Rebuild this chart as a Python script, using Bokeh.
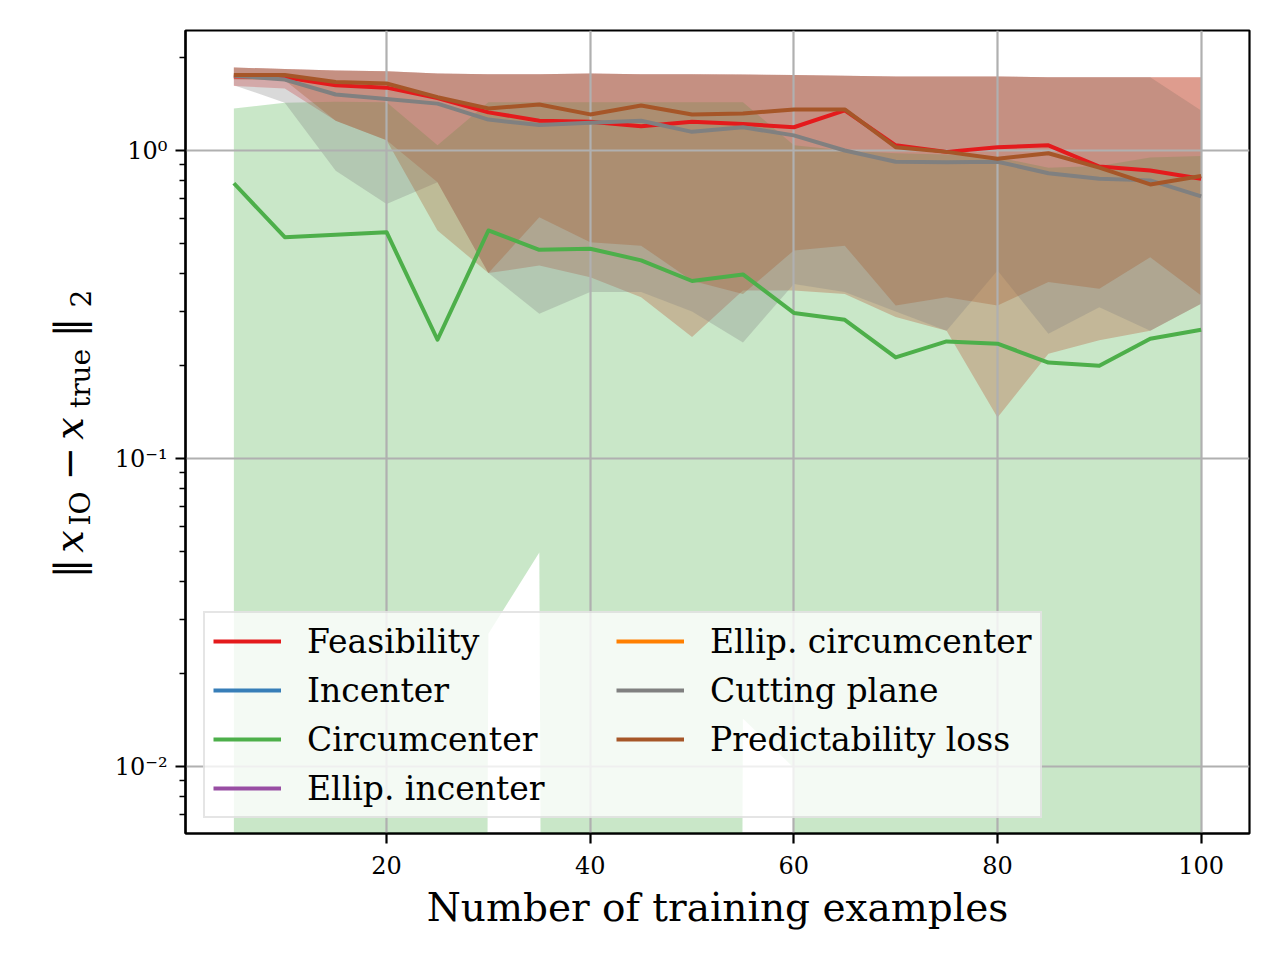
import math
from bokeh.plotting import figure
from bokeh.layouts import row
from bokeh.models import Range1d, FixedTicker, Legend, LegendItem, ColumnDataSource
from bokeh.core.properties import value
from bokeh.embed import file_html
from bokeh.resources import INLINE

# ---------------- data ----------------
n_examples = [5, 10, 15, 20, 25, 30, 35, 40, 45, 50, 55, 60, 65, 70, 75, 80, 85, 90, 95, 100]

feas_mid = [1.74, 1.73, 1.63, 1.60, 1.48, 1.33, 1.25, 1.24, 1.20, 1.24,
            1.22, 1.19, 1.35, 1.04, 0.99, 1.025, 1.04, 0.887, 0.861, 0.81]
feas_hi = [1.86, 1.84, 1.82, 1.81, 1.78, 1.77, 1.77, 1.78, 1.77, 1.77,
           1.765, 1.76, 1.75, 1.74, 1.74, 1.74, 1.73, 1.73, 1.73, 1.73]
feas_lo = [1.62, 1.59, 1.25, 1.08, 0.789, 0.40, 0.423, 0.388, 0.334, 0.248,
           0.351, 0.351, 0.342, 0.288, 0.26, 0.136, 0.219, 0.242, 0.26, 0.318]

circ_mid = [0.783, 0.523, 0.533, 0.543, 0.243, 0.55, 0.476, 0.48, 0.44, 0.377,
            0.396, 0.297, 0.282, 0.213, 0.240, 0.236, 0.205, 0.200, 0.245, 0.262]
circ_hi = [1.37, 1.43, 1.44, 1.435, 1.04, 1.435, 1.435, 1.435, 1.435, 1.435,
           1.435, 1.04, 1.0, 0.98, 0.97, 0.95, 0.88, 0.89, 0.95, 0.96]
circ_lo = [0, 0, 0, 0, 0, 0.027, 0.0495, 0, 0, 0,
           0.0143, 0.0099, 0, 0, 0, 0, 0, 0, 0, 0]

cut_mid = [1.75, 1.70, 1.52, 1.47, 1.42, 1.26, 1.21, 1.23, 1.25, 1.15,
           1.19, 1.12, 1.0, 0.92, 0.916, 0.92, 0.844, 0.81, 0.80, 0.71]
cut_hi = [1.86, 1.84, 1.82, 1.81, 1.78, 1.77, 1.77, 1.78, 1.77, 1.77,
          1.765, 1.76, 1.75, 1.74, 1.74, 1.74, 1.73, 1.73, 1.73, 1.35]
cut_lo = [1.63, 1.43, 0.86, 0.671, 0.789, 0.40, 0.295, 0.347, 0.347, 0.30,
          0.238, 0.369, 0.347, 0.30, 0.26, 0.408, 0.254, 0.31, 0.26, 0.318]

pred_mid = [1.76, 1.76, 1.67, 1.65, 1.49, 1.37, 1.41, 1.31, 1.40, 1.31,
            1.32, 1.36, 1.36, 1.025, 0.99, 0.94, 0.98, 0.88, 0.776, 0.826]
pred_hi = [1.86, 1.84, 1.82, 1.81, 1.78, 1.77, 1.77, 1.78, 1.77, 1.77,
           1.765, 1.76, 1.75, 1.74, 1.74, 1.74, 1.73, 1.73, 1.73, 1.73]
pred_lo = [1.70, 1.69, 1.25, 1.08, 0.55, 0.40, 0.607, 0.504, 0.491, 0.378,
           0.342, 0.474, 0.491, 0.314, 0.334, 0.314, 0.374, 0.356, 0.45, 0.338]

method_names = ["Feasibility", "Incenter", "Circumcenter", "Ellip. incenter",
                "Ellip. circumcenter", "Cutting plane", "Predictability loss"]
method_colors = ["#e41a1c", "#377eb8", "#4daf4a", "#984ea3",
                 "#ff7f00", "#808080", "#a65628"]

x_ticks = [20, 40, 60, 80, 100]
y_ticks = [0.01, 0.1, 1.0]
y_tick_labels = ["10\u207b\u00b2", "10\u207b\u00b9", "10\u2070"]

x_label = "Number of training examples"
# y label  ||x_IO - x_true||_2  as pieces: text, role
y_label_parts = ["\u2016", "x", "IO", "\u2212", "x", "true", "\u2016", "2"]
y_label_roles = ["main", "var", "sub", "main", "var", "sub", "main", "sub"]

# ---------------- layout constants ----------------
FONT = "DejaVu Serif"
TOTAL_W, TOTAL_H = 1264, 944
LABEL_W = 100
FRAME_L, FRAME_T, FRAME_W, FRAME_H = 185, 30, 1064, 803
BORDER_B = TOTAL_H - FRAME_T - FRAME_H

# ---------------- main figure ----------------
p = figure(x_range=Range1d(0.25, 104.75), y_range=Range1d(0.006061, 2.453),
           y_axis_type="log",
           frame_width=FRAME_W, frame_height=FRAME_H,
           min_border_left=FRAME_L - LABEL_W,
           min_border_right=TOTAL_W - FRAME_L - FRAME_W,
           min_border_top=FRAME_T,
           min_border_bottom=BORDER_B,
           output_backend="svg", toolbar_location=None)
p.background_fill_color = "white"
p.border_fill_color = "white"
p.outline_line_color = "black"
p.outline_line_width = 2.2

FLOOR = 1e-40  # values at or below zero fall off the bottom of a log axis


def clip(vals):
    return [v if v > 0 else FLOOR for v in vals]


bands = {
    "Feasibility": (feas_lo, feas_hi),
    "Circumcenter": (circ_lo, circ_hi),
    "Cutting plane": (cut_lo, cut_hi),
    "Predictability loss": (pred_lo, pred_hi),
}
mids = {
    "Feasibility": feas_mid,
    "Circumcenter": circ_mid,
    "Cutting plane": cut_mid,
    "Predictability loss": pred_mid,
}

for name, color in zip(method_names, method_colors):
    if name in bands:
        lo, hi = bands[name]
        p.varea(x=n_examples, y1=clip(lo), y2=hi, fill_color=color,
                fill_alpha=0.3, level="image")

items = []
nan = float("nan")
for name, color in zip(method_names, method_colors):
    if name in mids:
        xs, ys = n_examples, mids[name]
    else:  # listed in the legend, no visible curve in the picture
        xs, ys = [nan, nan], [nan, nan]
    r = p.line(xs, ys, line_color=color, line_width=4, line_join="round")
    items.append(LegendItem(label=name, renderers=[r]))

# ---------------- axes ----------------
p.xaxis.ticker = FixedTicker(ticks=x_ticks)
minor = [k * 10.0 ** e for e in (-3, -2, -1, 0) for k in range(2, 10)]
p.yaxis.ticker = FixedTicker(ticks=y_ticks, minor_ticks=minor)
p.yaxis.major_label_overrides = {t: s for t, s in zip(y_ticks, y_tick_labels)}
p.xgrid.ticker = FixedTicker(ticks=x_ticks)
p.ygrid.ticker = FixedTicker(ticks=y_ticks)

for g in (p.xgrid, p.ygrid):
    g.grid_line_color = "#b0b0b0"
    g.grid_line_width = 2.2

for ax in (p.xaxis, p.yaxis):
    ax.axis_line_color = "black"
    ax.axis_line_width = 2.2
    ax.major_tick_out = 10
    ax.major_tick_in = 0
    ax.major_tick_line_width = 2.2
    ax.major_tick_line_color = "black"
    ax.major_label_text_font = FONT
    ax.major_label_text_font_size = "24px"
    ax.major_label_text_color = "black"

p.xaxis.major_label_standoff = 12
p.yaxis.major_label_standoff = 8
p.xaxis.minor_tick_out = 0
p.xaxis.minor_tick_in = 0
p.yaxis.minor_tick_out = 6
p.yaxis.minor_tick_in = 0
p.yaxis.minor_tick_line_width = 1.7
p.yaxis.minor_tick_line_color = "black"

p.xaxis.axis_label = x_label
p.xaxis.axis_label_text_font = FONT
p.xaxis.axis_label_text_font_size = "39px"
p.xaxis.axis_label_text_font_style = "normal"
p.xaxis.axis_label_text_color = "black"
p.xaxis.axis_label_standoff = 8

# ---------------- legend ----------------
legend = Legend(items=items, location=(18, 15), orientation="vertical", nrows=4,
                label_text_font=FONT, label_text_font_size="33px",
                label_text_color="black",
                glyph_width=68, glyph_height=40, label_standoff=26,
                label_width=300, spacing=9, padding=8, margin=0,
                background_fill_color="white", background_fill_alpha=0.8,
                border_line_color="#cccccc", border_line_width=2)
p.add_layout(legend)

# ---------------- y label strip (page-pixel coordinates, frame aligned with main) ----------------
lab = figure(frame_width=LABEL_W, frame_height=FRAME_H,
             x_range=Range1d(0, LABEL_W), y_range=Range1d(FRAME_T + FRAME_H, FRAME_T),
             x_axis_location=None, y_axis_location=None,
             min_border=0, min_border_left=0, min_border_right=0,
             min_border_top=FRAME_T, min_border_bottom=BORDER_B,
             output_backend="svg", toolbar_location=None)
lab.grid.visible = False
lab.outline_line_color = None
lab.background_fill_color = "white"
lab.border_fill_color = "white"

# positions of each piece along the rotated label (page pixels)
piece_y = [568, 541, 508, 463, 428, 378, 327, 298]
role_x = {"main": 68, "var": 68, "sub": 80}
role_size = {"main": "40px", "var": "40px", "sub": "28px"}
for style in ("normal", "italic"):
    idx = [i for i, r in enumerate(y_label_roles)
           if (r == "var") == (style == "italic")]
    src = ColumnDataSource(dict(
        x=[role_x[y_label_roles[i]] for i in idx],
        y=[piece_y[i] for i in idx],
        t=[y_label_parts[i] for i in idx],
        size=[role_size[y_label_roles[i]] for i in idx],
    ))
    lab.text(x="x", y="y", text="t", source=src, angle=math.pi / 2,
             text_align="center", text_baseline="middle",
             text_font=value(FONT), text_font_size="size",
             text_font_style=value(style), text_color="black")

layout = row(lab, p)
open("out.html", "w").write(file_html(layout, INLINE))
